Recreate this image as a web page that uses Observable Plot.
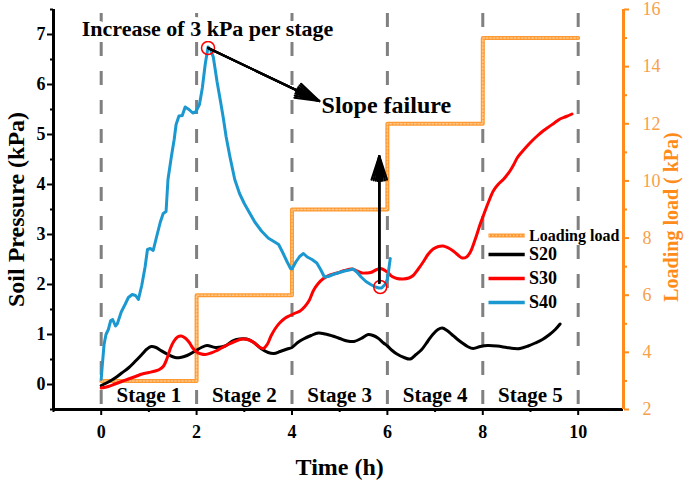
<!DOCTYPE html>
<html><head><meta charset="utf-8">
<script src="https://cdn.jsdelivr.net/npm/d3@7"></script>
<script src="https://cdn.jsdelivr.net/npm/@observablehq/plot@0.6"></script>
<style>body{margin:0;background:#fff}</style>
</head><body><div id="chart"></div>
<script>
// ---- data ----
const s20 = [[0,-0.02],[0.15,0.05],[0.29,0.13],[0.43,0.23],[0.57,0.33],[0.72,0.47],[0.86,0.61],[0.96,0.71],[1.05,0.76],[1.15,0.74],[1.25,0.68],[1.4,0.6],[1.55,0.54],[1.66,0.54],[1.8,0.58],[1.97,0.67],[2.1,0.74],[2.22,0.78],[2.39,0.74],[2.6,0.77],[2.75,0.87],[2.9,0.91],[3.05,0.91],[3.2,0.84],[3.35,0.72],[3.5,0.64],[3.62,0.62],[3.75,0.66],[3.9,0.71],[4.0,0.74],[4.12,0.84],[4.24,0.91],[4.4,0.98],[4.55,1.03],[4.7,1.01],[4.85,0.97],[5.0,0.92],[5.16,0.87],[5.3,0.86],[5.45,0.92],[5.6,1.0],[5.7,0.98],[5.8,0.93],[5.92,0.83],[6.0,0.77],[6.1,0.68],[6.2,0.61],[6.35,0.54],[6.48,0.51],[6.6,0.6],[6.72,0.7],[6.85,0.87],[6.96,1.01],[7.06,1.1],[7.15,1.13],[7.25,1.08],[7.35,1.0],[7.46,0.91],[7.57,0.83],[7.68,0.76],[7.8,0.72],[7.95,0.76],[8.1,0.78],[8.3,0.77],[8.5,0.74],[8.65,0.72],[8.78,0.72],[8.95,0.77],[9.1,0.83],[9.25,0.9],[9.4,1.0],[9.52,1.1],[9.62,1.21]];
const s30 = [[0,-0.07],[0.15,-0.04],[0.29,0.01],[0.43,0.06],[0.57,0.11],[0.72,0.16],[0.86,0.21],[1.0,0.24],[1.13,0.27],[1.22,0.3],[1.3,0.36],[1.38,0.52],[1.45,0.72],[1.52,0.86],[1.6,0.95],[1.68,0.97],[1.76,0.93],[1.84,0.85],[1.92,0.73],[2.0,0.65],[2.1,0.61],[2.18,0.6],[2.3,0.63],[2.4,0.67],[2.52,0.73],[2.66,0.8],[2.8,0.86],[2.96,0.91],[3.1,0.89],[3.2,0.84],[3.3,0.76],[3.4,0.72],[3.48,0.8],[3.56,0.97],[3.65,1.12],[3.75,1.24],[3.86,1.33],[3.96,1.38],[4.07,1.43],[4.17,1.47],[4.27,1.56],[4.36,1.68],[4.45,1.88],[4.55,2.02],[4.66,2.12],[4.8,2.19],[4.95,2.23],[5.1,2.28],[5.26,2.31],[5.36,2.27],[5.47,2.23],[5.56,2.23],[5.65,2.24],[5.78,2.3],[5.86,2.32],[5.95,2.28],[6.02,2.23],[6.1,2.16],[6.2,2.12],[6.33,2.11],[6.45,2.13],[6.54,2.18],[6.64,2.3],[6.75,2.45],[6.85,2.6],[6.96,2.71],[7.07,2.76],[7.17,2.77],[7.28,2.73],[7.38,2.67],[7.48,2.59],[7.57,2.53],[7.66,2.55],[7.74,2.65],[7.84,2.9],[7.95,3.22],[8.04,3.45],[8.12,3.65],[8.22,3.87],[8.32,4.0],[8.43,4.1],[8.5,4.18],[8.57,4.27],[8.65,4.4],[8.72,4.53],[8.82,4.65],[8.93,4.77],[9.03,4.87],[9.14,4.97],[9.25,5.06],[9.35,5.13],[9.5,5.23],[9.62,5.31],[9.75,5.36],[9.87,5.41]];
const s40 = [[0,0.1],[0.02,0.35],[0.06,0.8],[0.1,1.0],[0.15,1.1],[0.2,1.28],[0.24,1.3],[0.3,1.17],[0.34,1.22],[0.42,1.45],[0.5,1.6],[0.57,1.74],[0.65,1.8],[0.72,1.78],[0.78,1.7],[0.85,1.98],[0.92,2.35],[0.97,2.7],[1.03,2.72],[1.09,2.68],[1.16,2.95],[1.24,3.25],[1.3,3.42],[1.36,3.46],[1.4,4.1],[1.47,4.55],[1.53,4.9],[1.57,5.2],[1.63,5.37],[1.7,5.38],[1.76,5.55],[1.84,5.5],[1.92,5.43],[1.98,5.45],[2.06,5.6],[2.12,5.93],[2.18,6.4],[2.24,6.75],[2.3,6.68],[2.35,6.55],[2.43,6.05],[2.5,5.67],[2.56,5.33],[2.62,4.95],[2.7,4.55],[2.8,4.1],[2.9,3.82],[3.0,3.62],[3.1,3.45],[3.22,3.25],[3.36,3.07],[3.5,2.93],[3.62,2.86],[3.72,2.8],[3.8,2.65],[3.9,2.45],[3.97,2.32],[4.0,2.31],[4.08,2.45],[4.16,2.56],[4.24,2.62],[4.32,2.55],[4.42,2.5],[4.52,2.43],[4.6,2.3],[4.68,2.15],[4.76,2.16],[4.86,2.2],[4.96,2.23],[5.1,2.27],[5.2,2.29],[5.28,2.31],[5.36,2.25],[5.45,2.15],[5.55,2.06],[5.65,2.0],[5.75,1.95],[5.82,1.93],[5.88,1.93],[5.95,2.0],[6.0,2.1],[6.06,2.52]];
const loadTimes = [0, 2, 4, 6, 8, 10];
const loadValues = [3, 6, 9, 12, 15, 15];
const stageBounds = [0, 2, 4, 6, 8, 10];
const stageLabels = ["Stage 1", "Stage 2", "Stage 3", "Stage 4", "Stage 5"];
const stageCenters = [1, 3, 5, 7, 9];
const xMajorTicks = [0, 2, 4, 6, 8, 10];
const xMinorTicks = [-1, 1, 3, 5, 7, 9];
const yMajorTicks = [0, 1, 2, 3, 4, 5, 6, 7];
const yMinorTicks = [-0.5, 0.5, 1.5, 2.5, 3.5, 4.5, 5.5, 6.5, 7.5];
const loadMajorTicks = [2, 4, 6, 8, 10, 12, 14, 16];
const loadMinorTicks = [3, 5, 7, 9, 11, 13, 15];
const pressureDomain = [-0.5, 7.5];
const loadDomain = [2, 16];
const peakPoint = [2.24, 6.73];
const failurePoint = [5.85, 1.95];

// ---- helpers ----
const toLeft = L => pressureDomain[0] + (L - loadDomain[0]) * (pressureDomain[1] - pressureDomain[0]) / (loadDomain[1] - loadDomain[0]);
const fromLeft = v => loadDomain[0] + (v - pressureDomain[0]) * (loadDomain[1] - loadDomain[0]) / (pressureDomain[1] - pressureDomain[0]);
const loadData = loadTimes.map((t, i) => ({t, v: toLeft(loadValues[i])}));
const ORANGE = "#ff8c1a";
const ORANGE_TXT = "#f7a04a";
const BLUE = "#1b98d0";
const serif = "Liberation Serif, Times New Roman, serif";

const legend = [
  {label: "Loading load", color: "#ff9a33", y: 2.98, size: 16, load: true},
  {label: "S20", color: "black", y: 2.6, size: 18},
  {label: "S30", color: "red", y: 2.12, size: 18},
  {label: "S40", color: BLUE, y: 1.64, size: 18}
];

const legendMarks = legend.flatMap(d => {
  const m = [Plot.ruleY([d.y], {x1: 8.13, x2: 8.89, stroke: d.color, strokeWidth: d.load ? 4 : 3.5})];
  if (d.load) m.push(Plot.ruleY([d.y], {x1: 8.13, x2: 8.89, stroke: "#ffc88a", strokeWidth: 1.5, strokeDasharray: "1.5,2"}));
  m.push(Plot.text([d.label], {x: 8.97, y: d.y, text: t => t, textAnchor: "start", fontSize: d.size, fontWeight: "bold", fill: "black"}));
  return m;
});

const headArrows = (x1, y1, x2, y2) => [36, 26, 16, 8].map(a =>
  Plot.arrow([0], {x1, y1, x2, y2, stroke: "black", strokeWidth: 2.2, headAngle: a, headLength: 17}));

const chart = Plot.plot({
  width: 685, height: 485,
  marginLeft: 53, marginRight: 62, marginTop: 9, marginBottom: 76,
  x: {domain: [-1, 10.95]},
  y: {domain: pressureDomain},
  style: {fontFamily: serif, fontWeight: "bold", fontSize: "18px", background: "white", color: "black", overflow: "visible"},
  marks: [
    Plot.ruleX(stageBounds, {y1: 7.5, y2: -0.5, stroke: "#808080", strokeWidth: 3, strokeDasharray: "14,15", strokeDashoffset: -4}),
    Plot.axisY({ticks: yMajorTicks, tickSize: 6, tickPadding: 2, strokeWidth: 2, label: null, fontSize: 18, fontWeight: "bold"}),
    Plot.axisY({ticks: yMinorTicks, tickSize: 3, strokeWidth: 2, label: null, tickFormat: () => ""}),
    Plot.axisX({ticks: xMajorTicks, tickSize: 6, tickPadding: 10, strokeWidth: 2, label: null, fontSize: 18, fontWeight: "bold"}),
    Plot.axisX({ticks: xMinorTicks, tickSize: 3, strokeWidth: 2, label: null, tickFormat: () => ""}),
    Plot.axisY({anchor: "right", ticks: loadMajorTicks.map(toLeft), tickFormat: v => String(Math.round(fromLeft(v))), tickSize: 5, tickPadding: 14, strokeWidth: 2, color: ORANGE_TXT, stroke: ORANGE, label: null, fontSize: 18, fontWeight: "normal"}),
    Plot.axisY({anchor: "right", ticks: loadMinorTicks.map(toLeft), tickFormat: () => "", tickSize: 3, strokeWidth: 2, stroke: ORANGE, label: null}),
    Plot.ruleX([-1], {stroke: "black", strokeWidth: 3}),
    Plot.ruleY([-0.5], {stroke: "black", strokeWidth: 3}),
    Plot.ruleX([10.95], {stroke: ORANGE, strokeWidth: 3}),
    // loading load
    Plot.line(loadData, {x: "t", y: "v", curve: "step-after", stroke: "#ff9a33", strokeWidth: 4}),
    Plot.line(loadData, {x: "t", y: "v", curve: "step-after", stroke: "#ffc88a", strokeWidth: 1.5, strokeDasharray: "1.5,2"}),
    // series
    Plot.line(s20, {x: d => d[0], y: d => d[1], stroke: "black", strokeWidth: 3, curve: "catmull-rom"}),
    Plot.line(s30, {x: d => d[0], y: d => d[1], stroke: "red", strokeWidth: 3, curve: "catmull-rom"}),
    Plot.line(s40, {x: d => d[0], y: d => d[1], stroke: BLUE, strokeWidth: 3}),
    // annotations
    Plot.dot([peakPoint, failurePoint], {x: d => d[0], y: d => d[1], r: 6.5, stroke: "red", strokeWidth: 1.5, fill: "none"}),
    ...headArrows(peakPoint[0], peakPoint[1], 4.57, 5.67),
    ...headArrows(5.83, 2.03, 5.83, 4.57),
    Plot.text(["Increase of 3 kPa per stage"], {x: 2.23, y: 7.11, text: d => d, fontSize: 22, fontWeight: "bold", fill: "black", stroke: "white", strokeWidth: 10}),
    Plot.text(["Slope failure"], {x: 4.62, y: 5.59, text: d => d, textAnchor: "start", fontSize: 24, fontWeight: "bold", fill: "black"}),
    Plot.text(stageLabels, {x: (d, i) => stageCenters[i], y: -0.22, text: d => d, fontSize: 21, fontWeight: "bold", fill: "black"}),
    // titles
    Plot.text(["Soil Pressure (kPa)"], {x: -1.78, y: 3.5, text: d => d, rotate: -90, fontSize: 24, fontWeight: "bold", fill: "black"}),
    Plot.text(["Time (h)"], {x: 5.0, y: -1.66, text: d => d, fontSize: 24, fontWeight: "bold", fill: "black"}),
    Plot.text(["Loading load ( kPa)"], {x: 11.95, y: 3.35, text: d => d, rotate: -90, fontSize: 20, fontWeight: "bold", fill: ORANGE}),
    ...legendMarks
  ]
});
document.getElementById("chart").appendChild(chart);
</script>
</body></html>
